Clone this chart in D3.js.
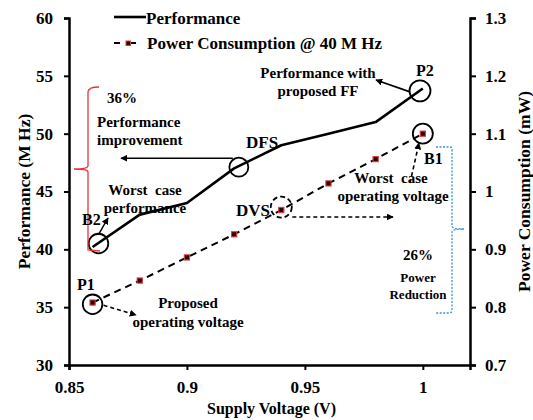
<!DOCTYPE html>
<html>
<head>
<meta charset="utf-8">
<script src="https://cdn.jsdelivr.net/npm/d3@7"></script>
<style>
  html, body { margin: 0; padding: 0; background: #fff; }
</style>
</head>
<body>
<svg id="chart" width="533" height="420"></svg>
<script>
// ---- data ----
const voltage = [0.86, 0.88, 0.90, 0.92, 0.94, 0.96, 0.98, 1.00];
const performance = [40.2, 43.0, 44.0, 47.0, 49.0, 50.0, 51.0, 53.9];
const power = [0.808, 0.846, 0.886, 0.926, 0.968, 1.014, 1.056, 1.100];
const xTicks = [0.85, 0.9, 0.95, 1];
const xTickLabels = ["0.85", "0.9", "0.95", "1"];
const yLeftTicks = [30, 35, 40, 45, 50, 55, 60];
const yRightTicks = [0.7, 0.8, 0.9, 1.0, 1.1, 1.2, 1.3];
const yRightTickLabels = ["0.7", "0.8", "0.9", "1", "1.1", "1.2", "1.3"];

// ---- layout ----
const FONT = "'Liberation Serif', 'Times New Roman', Times, 'DejaVu Serif', serif";
const svg = d3.select("#chart");
const L = 69, R = 470, T = 18, B = 365;
const x = d3.scaleLinear().domain([0.85, 1.02]).range([L, R]);
const yL = d3.scaleLinear().domain([30, 60]).range([B, T]);
const yR = d3.scaleLinear().domain([0.7, 1.3]).range([B, T]);

const defs = svg.append("defs");
defs.append("marker").attr("id", "ah").attr("viewBox", "0 0 10 10")
  .attr("refX", 9).attr("refY", 5).attr("markerWidth", 7).attr("markerHeight", 7)
  .attr("markerUnits", "userSpaceOnUse").attr("orient", "auto")
  .append("path").attr("d", "M0,0 L10,5 L0,10 Z").attr("fill", "#000");

// axes
const axStyle = g => {
  g.attr("font-family", FONT).attr("font-size", 17).attr("font-weight", "bold");
  g.select(".domain").attr("stroke", "#000").attr("stroke-width", 2.5);
  g.selectAll(".tick line").attr("stroke", "#000").attr("stroke-width", 2);
  g.selectAll(".tick text").attr("fill", "#000");
};
svg.append("g").attr("transform", `translate(0,${B})`)
  .call(d3.axisBottom(x).tickValues(xTicks).tickFormat((d, i) => xTickLabels[i]).tickSizeOuter(0).tickSize(5).tickPadding(11))
  .call(axStyle);
svg.append("g").attr("transform", `translate(${L},0)`)
  .call(d3.axisLeft(yL).tickValues(yLeftTicks).tickFormat(d3.format("d")).tickSizeOuter(0).tickSize(5).tickPadding(11))
  .call(axStyle);
svg.append("g").attr("transform", `translate(${R},0)`)
  .call(d3.axisRight(yR).tickValues(yRightTicks).tickFormat((d, i) => yRightTickLabels[i]).tickSizeOuter(0).tickSize(6).tickPadding(9))
  .call(axStyle);

// axis titles
svg.append("text").attr("x", (L + R) / 2 + 2).attr("y", 414).attr("text-anchor", "middle")
  .attr("font-size", 16).text("Supply Voltage (V)");
svg.append("text").attr("transform", `translate(30,${(T + B) / 2}) rotate(-90)`).attr("text-anchor", "middle")
  .attr("font-size", 17.5).text("Performance (M Hz)");
svg.append("text").attr("transform", `translate(530,${(T + B) / 2}) rotate(-90)`).attr("text-anchor", "middle")
  .attr("font-size", 17.5).text("Power Consumption (mW)");

// series
const perfLine = d3.line().x((d, i) => x(voltage[i])).y(d => yL(d));
svg.append("path").datum(performance).attr("d", perfLine)
  .attr("fill", "none").attr("stroke", "#000").attr("stroke-width", 2.6).attr("stroke-linejoin", "round");
const powLine = d3.line().x((d, i) => x(voltage[i])).y(d => yR(d));
svg.append("path").datum(power).attr("d", powLine)
  .attr("fill", "none").attr("stroke", "#000").attr("stroke-width", 2).attr("stroke-dasharray", "7,5");
svg.selectAll("rect.pw").data(power).enter().append("rect").attr("class", "pw")
  .attr("x", (d, i) => x(voltage[i]) - 2.6).attr("y", d => yR(d) - 2.6)
  .attr("width", 5.2).attr("height", 5.2)
  .attr("fill", "#2a0505").attr("stroke", "#e23b3b").attr("stroke-width", 1.1);

// legend
svg.append("line").attr("x1", 114).attr("x2", 146).attr("y1", 17).attr("y2", 17)
  .attr("stroke", "#000").attr("stroke-width", 2.6);
svg.append("text").attr("x", 146).attr("y", 24).attr("font-size", 17).text("Performance");
svg.append("line").attr("x1", 114).attr("x2", 120).attr("y1", 43).attr("y2", 43).attr("stroke", "#000").attr("stroke-width", 2);
svg.append("line").attr("x1", 131).attr("x2", 136).attr("y1", 43).attr("y2", 43).attr("stroke", "#000").attr("stroke-width", 2);
svg.append("rect").attr("x", 126).attr("y", 41).attr("width", 4.5).attr("height", 4.5)
  .attr("fill", "#2a0505").attr("stroke", "#e23b3b").attr("stroke-width", 1);
svg.append("text").attr("x", 147).attr("y", 49).attr("font-size", 17).text("Power Consumption @ 40 M Hz");

// annotation anchors (through scales)
const cB2 = [x(0.8625), yL(40.5)];
const cDFS = [x(0.922), yL(47.1)];
const cP2 = [x(0.9988), yL(53.7)];
const cP1 = [x(0.86), yR(0.805)];
const cDVS = [x(0.94), yR(0.973)];
const cB1 = [x(1.0), yR(1.1)];

function circ(c, r, dashed) {
  const e = svg.append("circle").attr("cx", c[0]).attr("cy", c[1]).attr("r", r)
    .attr("fill", "none").attr("stroke", "#000").attr("stroke-width", 1.8);
  if (dashed) e.attr("stroke-dasharray", "5,3");
}
circ(cB2, 9.8); circ(cDFS, 9.5); circ(cP2, 10.5); circ(cP1, 9.8); circ(cDVS, 10.5, true); circ(cB1, 10);

function arrow(x1, y1, x2, y2, dashed, w) {
  const e = svg.append("line").attr("x1", x1).attr("y1", y1).attr("x2", x2).attr("y2", y2)
    .attr("stroke", "#000").attr("stroke-width", w || 1.5).attr("marker-end", "url(#ah)");
  if (dashed) e.attr("stroke-dasharray", "4,3");
}
arrow(cDFS[0] - 6, cDFS[1] - 9, 121, cDFS[1] - 9, false, 1.6);
arrow(cP2[0] - 10, cP2[1] + 1, 376, 80, false, 1.6);
arrow(cB2[0], cB2[1] - 9, 108, 218, false, 1.5);
arrow(cP1[0] + 11, cP1[1] + 1, 136, 315, true, 1.6);
arrow(cDVS[0] + 11, 217, 393, 217, true, 1.6);
arrow(410, 183, 419, 143, true, 1.6);

// brackets
svg.append("path").attr("d", "M99,87 Q88,87 88,92 L88,166 Q88,169 74,169 Q88,169 88,172 L88,250 L100,251")
  .attr("fill", "none").attr("stroke", "#e8333a").attr("stroke-width", 1.3);
svg.append("path").attr("d", "M436,147 L450,147 Q452,147 452,150 L452,226 Q452,229 464,229 Q452,229 452,232 L452,310 Q452,313 449,313 L436,313")
  .attr("fill", "none").attr("stroke", "#3d8fd9").attr("stroke-width", 1.3).attr("stroke-dasharray", "2,1.5");

// text annotations
function txt(tx, ty, s, size, anchor) {
  svg.append("text").attr("x", tx).attr("y", ty).attr("text-anchor", anchor || "start")
    .attr("font-size", size).text(s);
}
txt(107, 103, "36%", 15);
txt(97, 127, "Performance", 15);
txt(97, 145, "improvement", 15);
txt(246, 148, "DFS", 17);
txt(145, 195, "Worst  case", 15, "middle");
txt(145, 213, "performance", 15, "middle");
txt(82, 225, "B2", 16);
txt(77, 290, "P1", 16);
txt(188, 308, "Proposed", 15, "middle");
txt(188, 327, "operating voltage", 15, "middle");
txt(236, 216, "DVS", 17);
txt(318, 78, "Performance with", 15, "middle");
txt(318, 96, "proposed FF", 15, "middle");
txt(416, 76, "P2", 16);
txt(424, 164, "B1", 16);
txt(391, 183, "Worst  case", 15, "middle");
txt(393, 201, "operating voltage", 15, "middle");
txt(418, 260, "26%", 15, "middle");
txt(418, 282, "Power", 13, "middle");
txt(418, 299, "Reduction", 13, "middle");

// apply serif bold font to every text
svg.selectAll("text").attr("font-family", FONT).attr("font-weight", "bold").attr("fill", "#000")
  .attr("xml:space", "preserve").style("white-space", "pre");
</script>
</body>
</html>
